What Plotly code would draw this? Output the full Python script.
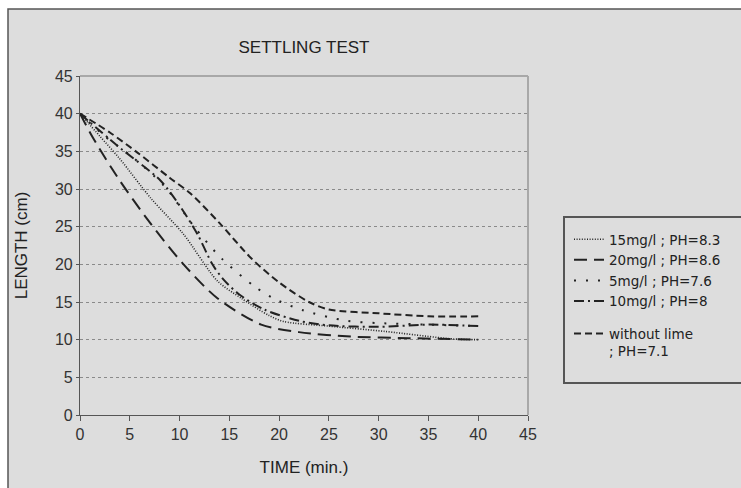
import plotly.graph_objects as go

# ---- data ----
t_15 = [0, 2, 4, 7.1, 10.4, 13.8, 16.2, 19, 20.5, 25, 30.6, 37.4, 40]
L_15 = [40, 37, 34, 28.8, 24, 17.8, 15.5, 13.2, 12.4, 11.8, 11.1, 10.1, 10]

t_20 = [0, 1.3, 4, 7.1, 10.4, 13.8, 18.2, 22, 27.3, 33, 40]
L_20 = [40, 36.8, 31.1, 25.4, 20, 15.5, 12, 11, 10.4, 10.2, 10]

t_5 = [0, 2.5, 5.3, 8.6, 11.4, 14.2, 17.5, 19.4, 22.4, 26.8, 30, 35, 40]
L_5 = [40, 37, 34.2, 30.2, 25.1, 20.8, 17.1, 15.5, 13.9, 12.5, 12.2, 12, 11.8]

t_10 = [0, 3.7, 8.1, 10, 11.8, 13.3, 14.4, 16, 18.5, 22, 25, 30, 35, 40]
L_10 = [40, 35.8, 31.1, 27.8, 24, 20, 18, 16, 14, 12.5, 11.9, 11.7, 12, 11.8]

t_wl = [0, 3, 5.8, 9, 11.1, 14, 17.2, 20, 23, 25, 30, 35, 40]
L_wl = [40, 37.5, 34.8, 31.5, 29.4, 25.5, 20.8, 17.6, 15, 14, 13.5, 13.1, 13.1]

names = ["15mg/l ; PH=8.3", "20mg/l ; PH=8.6", "5mg/l ; PH=7.6",
         "10mg/l ; PH=8", "without lime<br>; PH=7.1"]

x_ticks = [0, 5, 10, 15, 20, 25, 30, 35, 40, 45]
y_ticks = [0, 5, 10, 15, 20, 25, 30, 35, 40, 45]

# ---- figure ----
W, H = 741, 488
L_M, R_PX, T_M, B_PX = 80, 528, 76, 415

def px_x(p):
    return (p - L_M) / (R_PX - L_M)

def px_y(p):
    return (B_PX - p) / (B_PX - T_M)

ink = "#222222"
bg = "#dddddd"
font_main = "Liberation Sans Narrow, Liberation Sans, Arial, sans-serif"

series = [
    (t_15, L_15, "1px,1.6px", 1.6, "a"),
    (t_20, L_20, "13px,7px", 2, "a"),
    (t_5, L_5, "2px,10px", 2, "a"),
    (t_10, L_10, "10px,4px,2px,4px", 2, "a"),
    (t_wl, L_wl, "7px,4px", 2, "b"),
]

fig = go.Figure()
for (tx, ly, dash, w, grp), nm in zip(series, names):
    fig.add_trace(go.Scatter(
        x=tx, y=ly, mode="lines", name=nm, legendgroup=grp,
        line=dict(color=ink, width=w, dash=dash, shape="spline", smoothing=0.8),
    ))

shapes = [
    # outer grey frame
    dict(type="rect", xref="paper", yref="paper",
         x0=px_x(8), x1=px_x(800), y0=px_y(9), y1=px_y(600),
         fillcolor=bg, line=dict(color="#555555", width=1.5), layer="below"),
    # top and right plot borders (light grey)
    dict(type="line", xref="paper", yref="paper", x0=0, x1=1, y0=1, y1=1,
         line=dict(color="#a8a8a8", width=2)),
    dict(type="line", xref="paper", yref="paper", x0=1, x1=1, y0=0, y1=1,
         line=dict(color="#a8a8a8", width=2)),
    # legend box
    dict(type="rect", xref="paper", yref="paper",
         x0=px_x(564), x1=px_x(800), y0=px_y(383), y1=px_y(217),
         line=dict(color="#555555", width=2), fillcolor="rgba(0,0,0,0)"),
]

fig.update_layout(
    width=W, height=H,
    margin=dict(l=L_M, r=W - R_PX, t=T_M, b=H - B_PX),
    paper_bgcolor="white",
    plot_bgcolor="rgba(0,0,0,0)",
    shapes=shapes,
    title=dict(text="SETTLING TEST", x=px_x(304), xref="paper", xanchor="center",
               y=1 - 47 / H, yanchor="middle",
               font=dict(family=font_main, size=17, color="#222")),
    xaxis=dict(range=[0, 45], tickvals=x_ticks, showgrid=False, zeroline=False,
               showline=True, linecolor="#555555", linewidth=1.2,
               ticks="outside", ticklen=5, tickcolor="#555555",
               tickfont=dict(family=font_main, size=16, color="#333"),
               title=dict(text="TIME (min.)", standoff=18,
                          font=dict(family=font_main, size=17, color="#222"))),
    yaxis=dict(range=[0, 45], tickvals=y_ticks, showgrid=True,
               gridcolor="#8a8a8a", griddash="3px,3px", gridwidth=1,
               zeroline=False, showline=True, linecolor="#555555", linewidth=1.2,
               ticks="outside", ticklen=3, tickcolor="#555555",
               tickfont=dict(family=font_main, size=16, color="#333"),
               title=dict(text="LENGTH (cm)", standoff=22,
                          font=dict(family=font_main, size=17, color="#222"))),
    legend=dict(x=px_x(569), y=px_y(224), xanchor="left", yanchor="top",
                bgcolor="rgba(0,0,0,0)", borderwidth=0,
                tracegroupgap=12, valign="top",
                font=dict(family="DejaVu Sans, sans-serif", size=13.5, color="#222")),
    showlegend=True,
)

fig.write_html("out.html")
